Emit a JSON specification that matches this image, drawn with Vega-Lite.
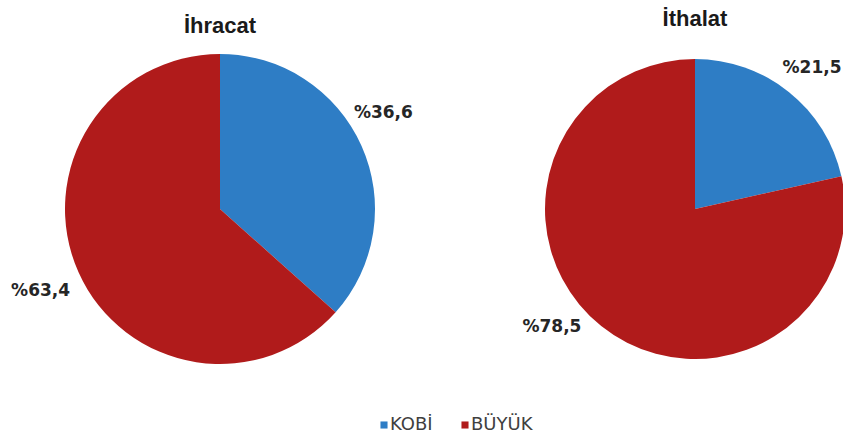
{
  "$schema": "https://vega.github.io/schema/vega-lite/v6.json",
  "padding": {"left": 0, "right": 0, "top": 8, "bottom": 0},
  "background": "white",
  "bounds": "flush",
  "datasets": {
    "ihracat": [
      {"grup": "KOBİ", "pay": 36.6, "etiket": "%36,6", "sira": 1},
      {"grup": "BÜYÜK", "pay": 63.4, "etiket": "%63,4", "sira": 2}
    ],
    "ithalat": [
      {"grup": "KOBİ", "pay": 21.5, "etiket": "%21,5", "sira": 1},
      {"grup": "BÜYÜK", "pay": 78.5, "etiket": "%78,5", "sira": 2}
    ]
  },
  "spacing": 107,
  "hconcat": [
    {
      "width": 440,
      "height": 310,
      "title": {"text": "İhracat", "offset": 16},
      "data": {"name": "ihracat"},
      "encoding": {
        "theta": {"field": "pay", "type": "quantitative", "stack": true},
        "order": {"field": "sira", "type": "quantitative"}
      },
      "layer": [
        {
          "mark": {"type": "arc", "outerRadius": 155},
          "encoding": {
            "color": {"field": "grup", "type": "nominal", "scale": {"domain": ["KOBİ", "BÜYÜK"], "range": ["#2e7dc5", "#b01b1b"]}}
          }
        },
        {
          "mark": {"type": "text", "radius": 190, "dx": -10, "dy": -18, "font": "DejaVu Sans", "fontWeight": "bold", "fontSize": 17, "fill": "#262626"},
          "encoding": {
            "text": {"condition": {"test": "datum.grup === 'KOBİ'", "field": "etiket"}, "value": ""}
          }
        },
        {
          "mark": {"type": "text", "radius": 190, "dx": -6, "dy": 4, "font": "DejaVu Sans", "fontWeight": "bold", "fontSize": 17, "fill": "#262626"},
          "encoding": {
            "text": {"condition": {"test": "datum.grup === 'BÜYÜK'", "field": "etiket"}, "value": ""}
          }
        }
      ]
    },
    {
      "width": 296,
      "height": 310,
      "title": {"text": "İthalat", "offset": -1},
      "data": {"name": "ithalat"},
      "encoding": {
        "theta": {"field": "pay", "type": "quantitative", "stack": true},
        "order": {"field": "sira", "type": "quantitative"}
      },
      "layer": [
        {
          "mark": {"type": "arc", "outerRadius": 150},
          "encoding": {
            "color": {"field": "grup", "type": "nominal", "scale": {"domain": ["KOBİ", "BÜYÜK"], "range": ["#2e7dc5", "#b01b1b"]}}
          }
        },
        {
          "mark": {"type": "text", "radius": 184, "dx": 2, "dy": 3, "font": "DejaVu Sans", "fontWeight": "bold", "fontSize": 17, "fill": "#262626"},
          "encoding": {
            "text": {"condition": {"test": "datum.grup === 'KOBİ'", "field": "etiket"}, "value": ""}
          }
        },
        {
          "mark": {"type": "text", "radius": 184, "dx": -28, "dy": -26, "font": "DejaVu Sans", "fontWeight": "bold", "fontSize": 17, "fill": "#262626"},
          "encoding": {
            "text": {"condition": {"test": "datum.grup === 'BÜYÜK'", "field": "etiket"}, "value": ""}
          }
        }
      ]
    }
  ],
  "resolve": {"scale": {"color": "shared"}},
  "config": {
    "view": {"stroke": null},
    "title": {"font": "Liberation Sans", "fontSize": 22, "fontWeight": "bold", "color": "#1a1a1a", "anchor": "middle"},
    "legend": {
      "orient": "none",
      "legendX": 375,
      "legendY": 362,
      "direction": "horizontal",
      "title": null,
      "symbolType": "square",
      "symbolSize": 50,
      "symbolStrokeWidth": 0,
      "labelFont": "DejaVu Sans",
      "labelFontSize": 18,
      "labelColor": "#404040",
      "columnPadding": 23,
      "labelOffset": -3
    }
  }
}
